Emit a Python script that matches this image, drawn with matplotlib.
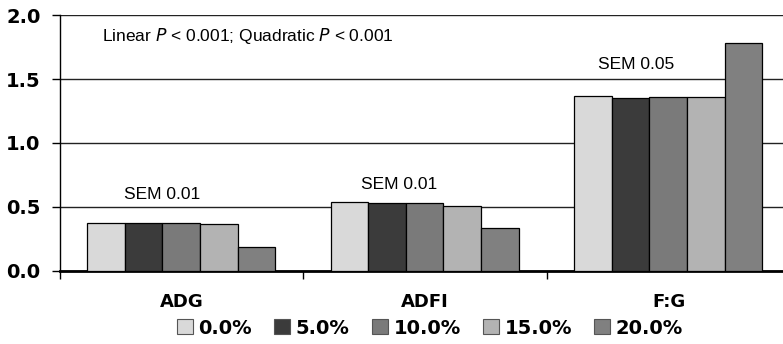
import numpy as np
import matplotlib.pyplot as plt
from matplotlib.patches import Patch

# Growth performance by inclusion level
traits = ['ADG', 'ADFI', 'F:G']
levels = ['0.0%', '5.0%', '10.0%', '15.0%', '20.0%']
adg  = [0.375, 0.375, 0.375, 0.362, 0.188]
adfi = [0.539, 0.534, 0.527, 0.508, 0.336]
fg   = [1.37, 1.35, 1.36, 1.36, 1.78]
sem_labels = ['SEM 0.01', 'SEM 0.01', 'SEM 0.05']
contrast_note = 'Linear $\\it{P}$ < 0.001; Quadratic $\\it{P}$ < 0.001'

colors = ['#d9d9d9', '#3b3b3b', '#7a7a7a', '#b3b3b3', '#808080']

fig = plt.figure(figsize=(7.83, 3.44), dpi=100)
ax = fig.add_axes([60 / 783, 73.3 / 344, 723 / 783, 255.4 / 344])

values = np.array([adg, adfi, fg])
bar_w = 0.1545
start = 0.111
for j, lvl in enumerate(levels):
    x = np.arange(len(traits)) + start + bar_w * j
    ax.bar(x, values[:, j], width=bar_w, align='edge', color=colors[j],
           edgecolor='black', linewidth=0.9, zorder=3, label=lvl)

ax.set_ylim(0, 2.0)
ax.set_xlim(0, 723 / 243.5)
ax.set_yticks([0.0, 0.5, 1.0, 1.5, 2.0])
ax.set_yticklabels(['0.0', '0.5', '1.0', '1.5', '2.0'])
ax.yaxis.grid(True, color='#222222', linewidth=1.0, zorder=0)

# category boundaries carry the tick marks, names sit in the middle
ax.set_xticks([0, 1, 2])
ax.set_xticklabels([])
ax.set_xticks([0.5, 1.5, 2.5], minor=True)
ax.set_xticklabels(traits, minor=True)
ax.tick_params(axis='x', which='major', length=6, width=1, direction='out')
ax.tick_params(axis='x', which='minor', length=0, pad=16)
ax.tick_params(axis='y', length=6, width=1, pad=8)
for lab in ax.get_yticklabels() + ax.get_xticklabels(minor=True):
    lab.set_fontfamily('DejaVu Sans')
    lab.set_fontweight('bold')
for lab in ax.get_yticklabels():
    lab.set_fontsize(14)
for lab in ax.get_xticklabels(minor=True):
    lab.set_fontsize(13)

for side in ['top', 'right']:
    ax.spines[side].set_visible(False)
ax.spines['left'].set_linewidth(1.0)
ax.spines['bottom'].set_linewidth(2.0)

ax.text(0.172, 1.84, contrast_note, fontsize=12.5, family='Liberation Sans',
        ha='left', va='center')
sem_pos = [(0.419, 0.60), (1.394, 0.677), (2.365, 1.615)]
for (sx, sy), s in zip(sem_pos, sem_labels):
    ax.text(sx, sy, s, fontsize=12.5, family='Liberation Sans', ha='center', va='center')

handles = [Patch(facecolor=c, edgecolor='#555555', linewidth=0.8) for c in colors]
fig.legend(handles, levels, loc='center', bbox_to_anchor=(430 / 783, 1 - 328 / 344),
           ncol=5, frameon=False, handlelength=0.8, handleheight=0.8,
           handletextpad=0.3, columnspacing=1.15,
           prop={'family': 'DejaVu Sans', 'weight': 'bold', 'size': 14})

fig.savefig('out.png', dpi=100)
